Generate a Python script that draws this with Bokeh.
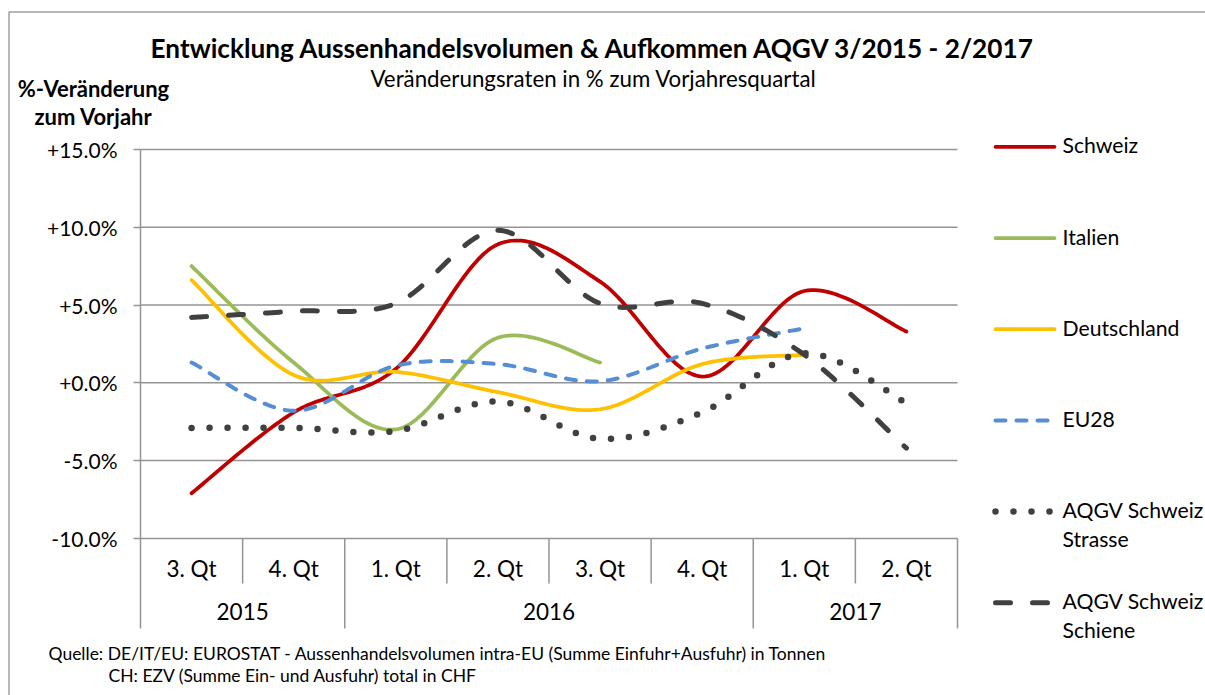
import numpy as np
from bokeh.plotting import figure
from bokeh.models import Range1d, FixedTicker, PrintfTickFormatter
from bokeh.embed import file_html
from bokeh.resources import INLINE
from bokeh.core.properties import value

# ---------------- data ----------------
years = ["2015", "2015", "2016", "2016", "2016", "2016", "2017", "2017"]
quarters = ["3. Qt", "4. Qt", "1. Qt", "2. Qt", "3. Qt", "4. Qt", "1. Qt", "2. Qt"]

schweiz = [-7.1, -1.9, 0.9, 8.9, 6.5, 0.4, 5.9, 3.3]
italien = [7.5, 1.3, -3.0, 2.9, 1.3]
deutschland = [6.6, 0.5, 0.7, -0.6, -1.7, 1.2, 1.8]
eu28 = [1.3, -1.8, 1.1, 1.2, 0.1, 2.2, 3.5]
aqgv_strasse = [-2.9, -2.9, -3.1, -1.2, -3.6, -1.9, 1.9, -1.3]
aqgv_schiene = [4.2, 4.6, 5.1, 9.8, 5.1, 5.1, 1.8, -4.2]

y_ticks = [-10, -5, 0, 5, 10, 15]

title_text = "Entwicklung Aussenhandelsvolumen & Aufkommen AQGV 3/2015 - 2/2017"
subtitle_text = "Veränderungsraten in % zum Vorjahresquartal"
ylabel_lines = ["%-Veränderung", "zum Vorjahr"]
source_lines = [
    "Quelle: DE/IT/EU: EUROSTAT - Aussenhandelsvolumen  intra-EU (Summe Einfuhr+Ausfuhr) in Tonnen",
    "CH: EZV (Summe Ein- und Ausfuhr) total in CHF",
]

# ---------------- layout helpers (page pixels -> data) ----------------
W, H = 1205, 695
PL = 140                                          # page x of the value axis
PX_X = 817.0 / 8                                  # px per category
Y0 = 382.3                                        # page y of 0 %
PX_Y = 15.56                                      # px per percent
TXT_DY = -8.5                                     # baseline correction for text glyphs


def dx(px):
    return (px - PL) / PX_X


def dy(py):
    return (Y0 - py) / PX_Y


def ty(py):
    return dy(py + TXT_DY)


FONT = "Lato"
GRID = "#949494"
BLACK = "#000000"

p = figure(width=W, height=H, title=None,
           x_range=Range1d(dx(0), dx(W)), y_range=Range1d(dy(H), dy(0)),
           x_axis_location=None, output_backend="svg", toolbar_location=None,
           min_border_left=0, min_border_right=0, min_border_top=0, min_border_bottom=0)
p.outline_line_color = None
p.xgrid.visible = False
p.ygrid.visible = False
p.background_fill_color = "white"
p.border_fill_color = "white"

n_cat = len(quarters)
cat_x = np.arange(n_cat) + 0.5

# outer chart border (left and top edges are visible in the view)
p.quad(left=[dx(8.5)], right=[dx(W + 20)], top=[dy(11.5)], bottom=[dy(H + 20)],
       fill_color=None, line_color="#a0a0a0", line_width=1.5)

# value axis (fixed at the left edge of the category area)
ax = p.yaxis[0]
ax.fixed_location = 0
ax.bounds = (dy(628), max(y_ticks))
ax.ticker = FixedTicker(ticks=y_ticks)
ax.formatter = PrintfTickFormatter(format="%+.1f%%")
ax.axis_line_color = GRID
ax.axis_line_width = 1.5
ax.major_tick_line_color = GRID
ax.major_tick_line_width = 1.5
ax.major_tick_out = 7
ax.major_tick_in = 0
ax.minor_tick_out = 0
ax.minor_tick_in = 0
ax.major_label_standoff = 16
ax.major_label_text_font = FONT
ax.major_label_text_font_size = "21px"
ax.major_label_text_color = BLACK

# horizontal gridlines (only over the plot area)
p.segment(x0=0, x1=n_cat, y0=y_ticks, y1=y_ticks, line_color=GRID, line_width=1.5)

# category table separators
inner = [i for i in range(1, n_cat) if years[i] == years[i - 1]]
outer = [i for i in range(1, n_cat) if years[i] != years[i - 1]] + [n_cat]
ymin = min(y_ticks)
p.segment(x0=inner, x1=inner, y0=ymin, y1=dy(583), line_color=GRID, line_width=1.5)
p.segment(x0=outer, x1=outer, y0=ymin, y1=dy(628), line_color=GRID, line_width=1.5)

# category labels
p.text(x=cat_x, y=ty(576.5), text=quarters, text_font=value(FONT), text_font_size="22.5px",
       text_align="center", text_baseline="alphabetic", text_color=BLACK)
uyears, ycent = [], []
for yr in dict.fromkeys(years):
    idx = [i for i, v in enumerate(years) if v == yr]
    uyears.append(yr)
    ycent.append((min(idx) + max(idx) + 1) / 2)
p.text(x=ycent, y=ty(619), text=uyears, text_font=value(FONT), text_font_size="22.5px",
       text_align="center", text_baseline="alphabetic", text_color=BLACK)


# ---------------- smoothed series ----------------
def smooth(vals, n=30):
    P = np.column_stack([np.arange(len(vals)) + 0.5, np.asarray(vals, float)])
    out = [P[0]]
    t = np.linspace(0, 1, n + 1)[1:, None]
    for i in range(len(P) - 1):
        p0 = P[i - 1] if i > 0 else P[i]
        p1, p2 = P[i], P[i + 1]
        p3 = P[i + 2] if i + 2 < len(P) else P[i + 1]
        c1 = p1 + (p2 - p0) / 6
        c2 = p2 - (p3 - p1) / 6
        seg = (1 - t) ** 3 * p1 + 3 * (1 - t) ** 2 * t * c1 + 3 * (1 - t) * t ** 2 * c2 + t ** 3 * p2
        out.extend(seg)
    out = np.array(out)
    return out[:, 0], out[:, 1]


series = [
    ("Schweiz", schweiz, dict(line_color="#C00000", line_width=3.75, line_cap="round")),
    ("Italien", italien, dict(line_color="#9BBB59", line_width=3.75, line_cap="round")),
    ("Deutschland", deutschland, dict(line_color="#FFC000", line_width=3.75, line_cap="round")),
    ("EU28", eu28, dict(line_color="#558ED5", line_width=4, line_dash="10 11", line_cap="round")),
    ("AQGV Schweiz\nStrasse", aqgv_strasse, dict(line_color="#404040", line_width=6.5, line_dash="0 18", line_cap="round")),
    ("AQGV Schweiz\nSchiene", aqgv_schiene, dict(line_color="#404040", line_width=5, line_dash="15 22", line_cap="round")),
]

for name, vals, style in series:
    xs, ys = smooth(vals)
    p.line(xs, ys, line_join="round", **style)

# ---------------- legend (manual, right of the plot area) ----------------
LEG_X0, LEG_X1, LEG_TX = 995, 1054, 1062
for k, (name, vals, style) in enumerate(series):
    base = 153.3 + k * 91.2
    ly = dy(base - 7)
    p.line([dx(LEG_X0), dx(LEG_X1)], [ly, ly], **style)
    for j, line in enumerate(name.split("\n")):
        p.text(x=[dx(LEG_TX)], y=[ty(base + j * 29)], text=[line], text_font=value(FONT),
               text_font_size="21.2px", text_baseline="alphabetic", text_color=BLACK)


# ---------------- titles and notes ----------------
def add_text(txt, px, py, size, bold=False, align="left"):
    p.text(x=[dx(px)], y=[ty(py)], text=[txt], text_font=value(FONT), text_font_size=size,
           text_font_style="bold" if bold else "normal", text_align=align,
           text_baseline="alphabetic", text_color=BLACK)


add_text(title_text, 593, 55.7, "26.2px", bold=True, align="center")
add_text(subtitle_text, 593, 86, "22.3px", align="center")
add_text(ylabel_lines[0], 93, 96.7, "22px", bold=True, align="center")
add_text(ylabel_lines[1], 93, 124, "22px", bold=True, align="center")
add_text(source_lines[0], 48, 661, "17.5px")
add_text(source_lines[1], 108, 683, "17.5px")

open("out.html", "w").write(file_html(p, INLINE))
